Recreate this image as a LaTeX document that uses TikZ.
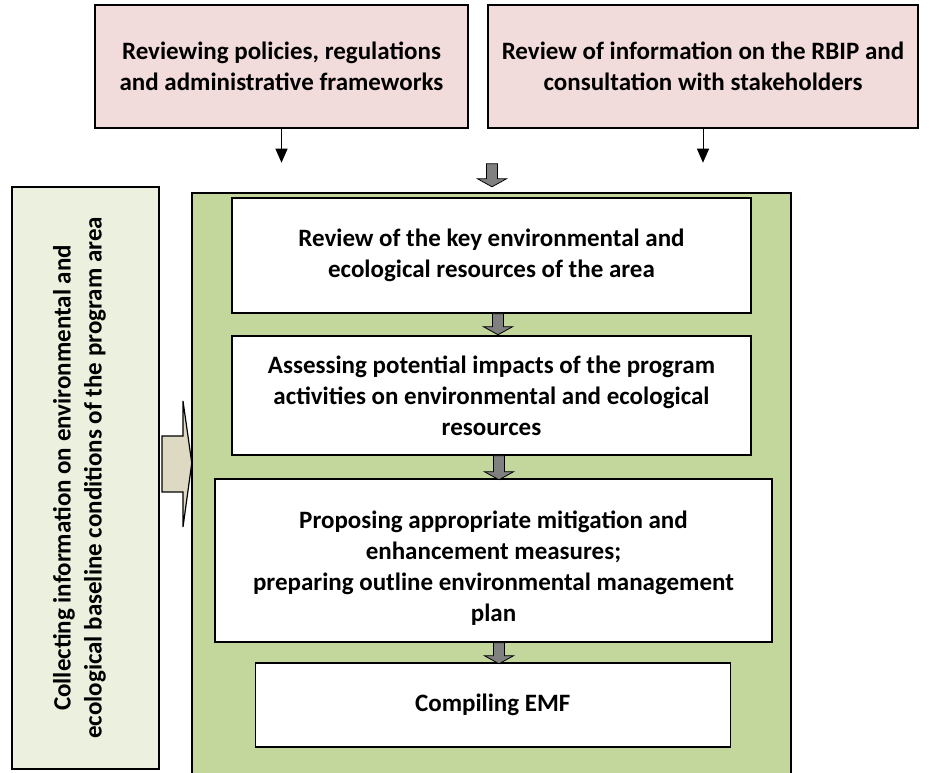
\documentclass[tikz,border=0pt]{standalone}
\usepackage{fontspec}
\setmainfont{Carlito}
\usetikzlibrary{calc, positioning, arrows.meta}

\definecolor{pinkfill}{HTML}{F2DCDB}
\definecolor{olivefill}{HTML}{C3D69B}
\definecolor{palegreen}{HTML}{EBF1DE}
\definecolor{tanfill}{HTML}{DDD9C3}

% small grey block arrow pointing down: #1 top centre, #2 length
\newcommand{\downblock}[2]{%
  \draw[greyarrow, shift={#1}] (-5.5,0) -- (-5.5,{8-#2}) -- (-14.5,{8-#2}) -- (0,-#2)
    -- (14.5,{8-#2}) -- (5.5,{8-#2}) -- (5.5,0) -- cycle;}

\begin{document}
\begin{tikzpicture}[x=1pt, y=1pt,
    boxtext/.style={align=center, inner sep=0pt, font=\fontsize{25}{31}\selectfont\bfseries},
    box/.style={boxtext, draw=black, line width=1.5pt},
    topbox/.style={box, fill=pinkfill, minimum height=123pt},
    stepbox/.style={box, fill=white},
    greyarrow/.style={draw=black, fill=gray, line width=0.8pt}]

  \useasboundingbox (0,0) rectangle (935,773);

  % Input boxes on top
  \node[topbox, minimum width=373pt] (policy) at (281.5,706.5)
    {Reviewing policies, regulations\\and administrative frameworks};
  \node[topbox, minimum width=430pt] (rbip) at (703,706.5)
    {Review of information on the RBIP and\\consultation with stakeholders};

  % Baseline box on the left
  \node[box, fill=palegreen, rotate=90, minimum width=582pt, minimum height=147pt]
    (baseline) at (85.5,295) {};
  \node[boxtext, rotate=90] (baseline text) at ($(baseline.center)+(-6,0)$)
    {Collecting information on environmental and\\ecological baseline conditions of the program area};

  % Green frame, open at the bottom
  \node[fill=olivefill, minimum width=599pt, minimum height=580pt, inner sep=0pt]
    (frame) at (491.5,290) {};
  \draw[line width=2pt] (frame.south west) -- (frame.north west)
    -- (frame.north east) -- (frame.south east);

  % Steps inside the frame
  \node[stepbox, minimum width=519pt, minimum height=115pt] (keyres) at (491.5,517.5)
    {Review of the key environmental and\\ecological resources of the area};
  \node[stepbox, minimum width=519pt, minimum height=119pt] (impacts) at (491.5,377.5)
    {Assessing potential impacts of the program\\activities on environmental and ecological\\resources};
  \node[stepbox, minimum width=557pt, minimum height=163pt] (mitig) at (493.5,212.5) {};
  \node[boxtext] (mitig text) at ($(mitig.center)+(0,-8)$)
    {Proposing appropriate mitigation and\\enhancement measures;\\preparing outline environmental management\\plan};
  \node[stepbox, minimum width=475pt, minimum height=84pt] (emf) at (492.75,68)
    {Compiling EMF};

  % Thin arrows from the input boxes
  \coordinate (policy end) at ($(policy.south)+(0,-34)$);
  \coordinate (rbip end) at ($(rbip.south)+(0,-34)$);
  \draw[line width=1pt, -{Triangle[length=14pt,width=12pt]}] (policy.south) -- (policy end);
  \draw[line width=1pt, -{Triangle[length=14pt,width=12pt]}] (rbip.south) -- (rbip end);

  % Grey block arrows
  \downblock{($(frame.north)+(0.5,29)$)}{23}
  \downblock{($(keyres.south)+(6.5,0)$)}{21}
  \downblock{($(impacts.south)+(7.5,0)$)}{24}
  \downblock{($(mitig.south)+(5.5,0)$)}{21}

  % Block arrow from the baseline box into the frame
  \draw[fill=tanfill, line width=1.2pt] (162,337) -- (183,337) -- (183,372)
    -- (frame.west |- 0,310) -- (183,246) -- (183,281) -- (162,281) -- cycle;
\end{tikzpicture}
\end{document}
